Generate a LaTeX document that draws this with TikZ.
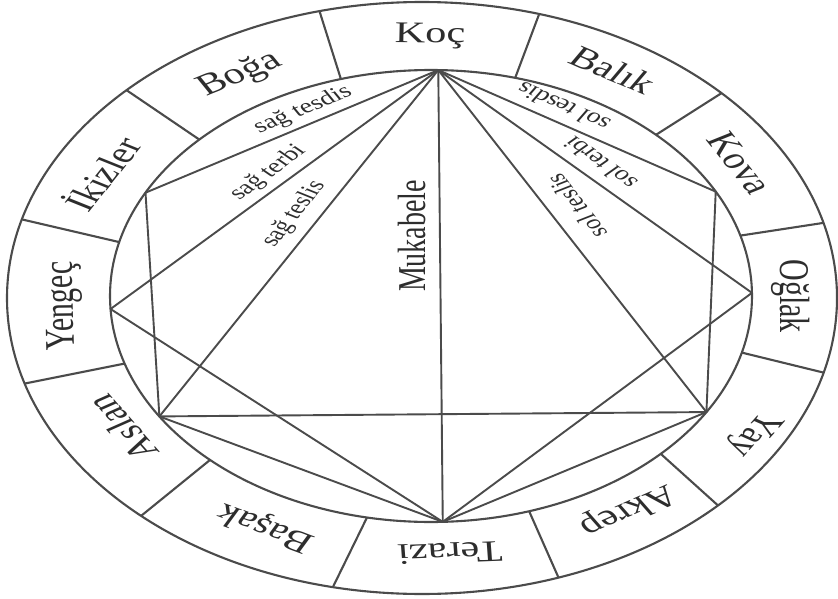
\documentclass[tikz,border=0pt]{standalone}
\usepackage{fontspec}
\setmainfont{Liberation Serif}
\definecolor{ink}{RGB}{75,75,75}
\definecolor{txt}{RGB}{45,45,45}
\begin{document}
\begin{tikzpicture}[x=1pt,y=-1pt,
  ring/.style={draw=ink, line width=2.1pt},
  chord/.style={draw=ink, line width=1.9pt, line join=round, line cap=round},
  sign/.style={text=txt, font=\fontsize{30}{30}\selectfont, xscale=1.41, inner sep=0pt},
  aspect/.style={text=txt, font=\fontsize{20}{20}\selectfont, xscale=1.41, inner sep=0pt},
  axis/.style={text=txt, font=\fontsize{28}{28}\selectfont, xscale=1.41, inner sep=0pt}]
\useasboundingbox (0,0) rectangle (838,599);
\fill[white] (0,0) rectangle (838,599);
% rings
\draw[ring] (422,298) ellipse [x radius=415pt, y radius=296pt];
\draw[ring] (431,296) ellipse [x radius=321pt, y radius=226pt];
% sector dividers
\foreach \ta/\tb [count=\i] in {-106.3/-104.3, -74.8/-73.6, -45.5/-43.8, -15.5/-14.7, 14.5/14.6, 44.3/44.5, 72.2/70.8, 101.5/102.4, 133.5/132.6, 162.6/163.2, 193.8/195.4, 223.8/224.6}{
  \coordinate (di\i) at ({431+321*cos(\ta)},{296+226*sin(\ta)});
  \coordinate (do\i) at ({422+415*cos(\tb)},{298+296*sin(\tb)});
  \draw[ring] (di\i) -- (do\i);
}
% aspect vertices on the inner ring
\foreach \n/\t in {K/-88.7, UR/-27.5, R/-0.8, LR/30.9, B/87.9, LL/147.8, L/176.7, UL/207.2}
  \coordinate (\n) at ({431+321*cos(\t)},{296+226*sin(\t)});
% chords
\draw[chord] (K) -- (UL);
\draw[chord] (K) -- (L);
\draw[chord] (K) -- (LL);
\draw[chord] (K) -- (B);
\draw[chord] (K) -- (LR);
\draw[chord] (K) -- (R);
\draw[chord] (K) -- (UR);
\draw[chord] (UL) -- (LL);
\draw[chord] (UR) -- (LR);
\draw[chord] (LL) -- (LR);
\draw[chord] (L) -- (B);
\draw[chord] (LL) -- (B);
\draw[chord] (R) -- (B);
\draw[chord] (LR) -- (B);
% sign names
\node[sign, rotate=-1] (koc) at (430,36) {Koç};
\node[sign, rotate=-31] (balik) at (613,70) {Balık};
\node[sign, rotate=-60.5] (kova) at (740,163) {Kova};
\node[sign, rotate=-90] (oglak) at (791,296) {Oğlak};
\node[sign, rotate=-122] (yay) at (753,434) {Yay};
\node[sign, rotate=-148] (akrep) at (628,510) {Akrep};
\node[sign, rotate=-177] (terazi) at (450,553) {Terazi};
\node[sign, rotate=152.5] (basak) at (266,527) {Başak};
\node[sign, rotate=122] (aslan) at (122,428) {Aslan};
\node[sign, rotate=91] (yengec) at (64,306) {Yengeç};
\node[sign, rotate=60.5] (ikizler) at (101,173) {İkizler};
\node[sign, rotate=30] (boga) at (240,75) {Boğa};
% aspect names
\node[aspect, rotate=30.3] (sagtesdis) at (303,110) {sağ tesdis};
\node[aspect, rotate=46] (sagterbi) at (268,173) {sağ terbi};
\node[aspect, rotate=60.3] (sagteslis) at (294,214) {sağ teslis};
\node[aspect, rotate=148.2] (soltesdis) at (563,107) {sol tesdis};
\node[aspect, rotate=134.8] (solterbi) at (600,163) {sol terbi};
\node[aspect, rotate=119] (solteslis) at (576,206) {sol teslis};
\node[axis, rotate=90] (mukabele) at (412,236) {Mukabele};
\end{tikzpicture}
\end{document}
